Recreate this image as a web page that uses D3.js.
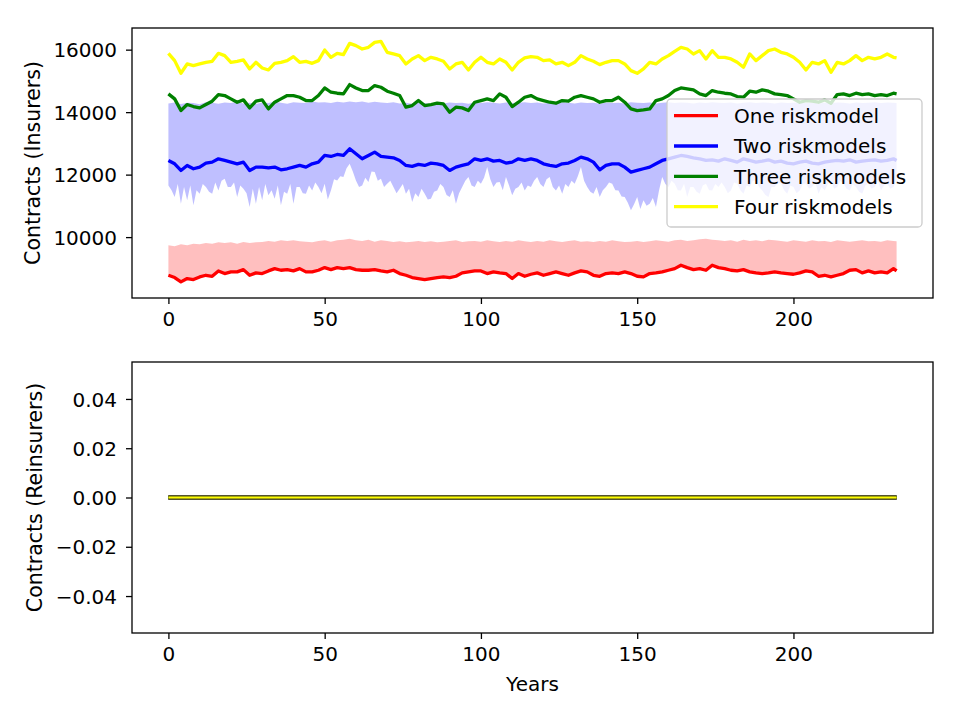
<!DOCTYPE html>
<html><head><meta charset="utf-8">
<script src="https://cdn.jsdelivr.net/npm/d3@7"></script>
<style>body{margin:0;background:#fff} svg{display:block} text{font-family:"DejaVu Sans",sans-serif;fill:#000}</style>
</head><body><svg id="c" width="960" height="720"></svg>
<script>
// ---- data ----
const years = [0,2,4,6,8,10,12,14,16,18,20,22,24,26,28,30,32,34,36,38,40,42,44,46,48,50,52,54,56,58,
60,62,64,66,68,70,72,74,76,78,80,82,84,86,88,90,92,94,96,98,100,102,104,106,108,110,112,114,116,
118,120,122,124,126,128,130,132,134,136,138,140,142,144,146,148,150,152,154,156,158,160,162,164,166,168,170,172,174,176,
178,180,182,184,186,188,190,192,194,196,198,200,202,204,206,208,210,212,214,216,218,220,222,224,226,228,230,232,233];

// yearly positions used by the spiky lower edge of the "Two riskmodels" band (years 0..233)
const yearsAll = d3.range(0, 234);

const seriesNames = ["One riskmodel","Two riskmodels","Three riskmodels","Four riskmodels"];
const seriesColors = ["red","blue","green","yellow"];

const oneRisk = [8779,8705,8566,8673,8641,8726,8779,8747,8918,8833,8886,8886,8960,8779,8854,8833,8918,8992,8939,8960,8918,8992,8886,8886,8939,9024,8960,9024,8992,9024,
8960,8939,8939,8960,8918,8886,8939,8833,8779,8705,8673,8641,8673,8705,8726,8705,8747,8854,8886,8918,8918,8833,8886,8854,8833,8673,8833,8747,8811,
8854,8779,8833,8886,8833,8779,8854,8918,8886,8779,8747,8833,8854,8833,8886,8833,8747,8726,8833,8854,8886,8939,8992,9099,9024,8960,8992,8939,9099,9024,
8992,8939,8918,8960,8886,8854,8833,8854,8886,8854,8833,8811,8854,8918,8886,8747,8779,8726,8779,8833,8939,8960,8854,8918,8854,8886,8854,8992,8918];

const oneRiskUpper = [9738,9706,9770,9738,9791,9770,9812,9791,9833,9812,9833,9791,9844,9812,9833,9844,9876,9855,9898,9876,9898,9866,9855,9833,9876,9898,9855,9898,9919,9951,
9898,9876,9919,9855,9898,9876,9844,9866,9833,9855,9876,9844,9866,9833,9855,9876,9898,9844,9866,9876,9855,9898,9866,9844,9876,9855,9898,9866,9844,
9876,9855,9898,9866,9844,9876,9898,9855,9866,9844,9876,9855,9898,9866,9844,9855,9876,9844,9866,9898,9876,9855,9898,9919,9876,9898,9930,9951,9919,9898,
9876,9898,9855,9919,9876,9898,9866,9919,9898,9876,9855,9898,9876,9855,9898,9866,9876,9844,9898,9876,9855,9876,9898,9866,9876,9855,9898,9876,9866];

const twoRisk = [12454,12347,12134,12294,12187,12241,12369,12400,12507,12454,12400,12347,12400,12134,12241,12241,12219,12241,12155,12187,12241,12294,12241,12347,12400,12613,12581,12645,12613,12826,
12667,12507,12613,12720,12581,12560,12539,12454,12294,12262,12326,12294,12369,12347,12294,12134,12241,12294,12347,12507,12454,12507,12432,12454,12369,12400,12507,12454,12507,
12454,12347,12294,12262,12347,12369,12454,12560,12507,12400,12155,12294,12347,12347,12241,12081,12134,12187,12241,12347,12454,12507,12560,12613,12581,12539,12507,12454,12475,12432,
12507,12454,12400,12507,12454,12400,12432,12475,12400,12432,12369,12347,12400,12432,12369,12347,12400,12432,12454,12432,12475,12400,12432,12454,12475,12432,12454,12507,12454];

// lower edge of the "Two riskmodels" band, one value per year 0..233
const twoRiskLower = [
11655,11500,11282,11700,11069,11600,11176,11650,11016,11500,11389,11700,11602,11450,11389,11750,11495,11800,11868,11600,
11602,11750,11282,11650,11548,11400,10963,11550,11069,11600,11176,11700,11336,11500,11229,11650,11016,11450,11389,11700,
11069,11600,11602,11400,11389,11650,11495,11750,11602,11400,11708,11200,11495,11850,11815,11950,11921,12200,12347,12100,
11815,11600,11655,11900,11761,12100,12081,11800,11868,11600,11708,11800,11602,11400,11548,11700,11389,11550,11122,11400,
11282,11550,11389,11200,11229,11450,11495,11700,11602,11350,11282,11500,11069,11400,11602,11800,11921,11650,11602,11800,
11708,11900,12241,11850,11602,11750,11761,11500,11921,11650,11336,11550,11602,11750,11495,11650,11602,11800,11921,11700,
11602,11850,11921,11600,11495,11650,11389,11700,11602,11800,11708,11950,12241,11800,11602,11450,11389,11600,11282,11500,
11602,11750,11708,11500,11495,11300,11282,11100,10856,11050,11282,10900,11176,11000,11069,11250,10963,11500,11921,11700,
11602,11800,11708,11500,11495,11700,11282,11600,11602,11450,11389,11650,11708,11500,11495,11700,11602,11750,11602,11400,
11495,11750,11708,11500,11389,11650,11602,11800,11815,11600,11495,11350,11282,11600,11602,11750,11708,11500,11389,11650,
11602,11400,11495,11700,11708,11550,11602,11750,11389,11600,11495,11700,11815,11550,11602,11800,11708,11550,11495,11700,
11602,11450,11389,11650,11708,11550,11602,11800,11495,11650,11708,11550,11602,11815];

const twoRiskUpper = [14280,14310,14260,14300,14290,14250,14320,14300,14270,14310,14290,14330,14280,14300,14260,14310,14290,14330,14300,14270,14320,14300,14290,14340,14310,14320,14290,14330,14310,14340,
14320,14340,14300,14330,14310,14290,14320,14280,14300,14270,14310,14290,14260,14300,14280,14310,14290,14300,14270,14310,14290,14320,14300,14280,14310,14290,14300,14320,14290,
14310,14280,14300,14290,14320,14300,14280,14310,14290,14300,14270,14310,14290,14300,14280,14320,14300,14290,14310,14280,14300,14320,14290,14310,14300,14280,14310,14290,14320,14300,
14290,14310,14280,14300,14320,14290,14310,14300,14280,14310,14290,14300,14320,14290,14310,14280,14300,14290,14310,14300,14280,14310,14290,14300,14320,14290,14310,14300,14290];

const threeRisk = [14584,14424,14051,14243,14179,14136,14243,14349,14562,14530,14424,14317,14392,14136,14349,14392,14104,14317,14424,14530,14530,14477,14371,14371,14530,14775,14637,14605,14584,14882,
14775,14690,14690,14850,14797,14669,14605,14530,14158,14211,14371,14211,14243,14285,14264,13998,14158,14136,14051,14317,14371,14424,14371,14584,14477,14179,14317,14477,14530,
14424,14371,14317,14285,14371,14349,14477,14530,14477,14424,14317,14371,14371,14477,14317,14104,14051,14072,14104,14371,14424,14530,14690,14775,14744,14712,14584,14530,14690,14637,
14605,14584,14498,14477,14669,14637,14712,14669,14584,14562,14530,14424,14317,14371,14349,14317,14392,14285,14562,14584,14530,14605,14562,14584,14530,14562,14530,14605,14584];

const fourRisk = [15883,15649,15244,15542,15489,15542,15595,15627,15883,15808,15595,15627,15670,15382,15595,15414,15350,15563,15595,15649,15776,15595,15627,15563,15649,15989,15755,15883,15840,16202,
16128,16021,16075,16234,16266,15915,15862,15808,15542,15702,15808,15649,15755,15702,15627,15382,15542,15595,15350,15595,15755,15595,15542,15702,15595,15350,15595,15734,15776,
15755,15649,15670,15542,15595,15489,15595,15808,15702,15627,15521,15595,15649,15649,15542,15329,15244,15382,15595,15542,15702,15808,15947,16075,16021,15862,15968,15702,15968,15755,
15755,15702,15595,15436,15862,15649,15808,15968,16021,15915,15862,15755,15595,15350,15595,15542,15649,15276,15595,15542,15649,15808,15649,15755,15702,15755,15862,15755,15734];

// reinsurer contracts: every series stays at zero over the whole run
const reinsYears = [0, 233];
const reinsOne = [0, 0];
const reinsTwo = [0, 0];
const reinsThree = [0, 0];
const reinsFour = [0, 0];

const topYTicks = [10000, 12000, 14000, 16000];
const bottomYTicks = [-0.04, -0.02, 0.00, 0.02, 0.04];
const xTicks = [0, 50, 100, 150, 200];

// ---- drawing ----
const svg = d3.select("#c");
const L = 132, R = 933;
const top1 = 28, bot1 = 298, top2 = 362, bot2 = 633;

const x = d3.scaleLinear().domain([-11.65, 244.65]).range([L, R]);
const y1 = d3.scaleLinear().domain([8051, 16693]).range([bot1, top1]);
const y2 = d3.scaleLinear().domain([-0.055, 0.055]).range([bot2, top2]);

const clip = (id, t, b) => svg.append("clipPath").attr("id", id).append("rect")
  .attr("x", L).attr("y", t).attr("width", R - L).attr("height", b - t);
clip("c1", top1, bot1); clip("c2", top2, bot2);

const g1 = svg.append("g").attr("clip-path", "url(#c1)");

function band(g, lo, hi, color) {
  g.append("path").datum(years)
    .attr("d", d3.area().x(d => x(d)).y0((d, i) => y1(lo[i])).y1((d, i) => y1(hi[i])))
    .attr("fill", color).attr("fill-opacity", 0.25).attr("stroke", "none");
}
function line(g, ys, color) {
  g.append("path").datum(years)
    .attr("d", d3.line().x(d => x(d)).y((d, i) => y1(ys[i])))
    .attr("fill", "none").attr("stroke", color).attr("stroke-width", 3.3)
    .attr("stroke-linejoin", "round");
}
band(g1, oneRisk, oneRiskUpper, "red");
line(g1, oneRisk, "red");

// blue band: upper edge on the 2-year grid, lower edge yearly
const bluePts = years.map((d, i) => [x(d), y1(twoRiskUpper[i])])
  .concat(yearsAll.map((d, i) => [x(d), y1(twoRiskLower[i])]).reverse());
g1.append("path").attr("d", d3.line()(bluePts) + "Z")
  .attr("fill", "blue").attr("fill-opacity", 0.25).attr("stroke", "none");
line(g1, twoRisk, "blue");
line(g1, threeRisk, "green");
line(g1, fourRisk, "yellow");

// bottom panel
const g2 = svg.append("g").attr("clip-path", "url(#c2)");
const reinsSeries = [reinsOne, reinsTwo, reinsThree, reinsFour];
const l2 = vals => d3.line().x((d, i) => x(reinsYears[i])).y((d, i) => y2(vals[i]))(vals);
reinsSeries.forEach((vals, k) => {
  g2.append("path").attr("d", l2(vals)).attr("fill", "none")
    .attr("stroke", "#4a4a20").attr("stroke-width", 4);
  g2.append("path").attr("d", l2(vals)).attr("fill", "none")
    .attr("stroke", seriesColors[k]).attr("stroke-width", 2);
});

// axes
function axes(yScale, yTicks, t, b, fmt, ylabel, xlabelY) {
  const ax = svg.append("g").attr("transform", `translate(0,${b})`)
    .call(d3.axisBottom(x).tickValues(xTicks).tickSize(6).tickPadding(7).tickFormat(d3.format("d")));
  ax.select(".domain").remove();
  ax.selectAll("line").attr("stroke", "#000").attr("stroke-width", 1.3);
  ax.selectAll("text").attr("font-size", 20).attr("dy", "0.71em").attr("y", 14);
  const ay = svg.append("g").attr("transform", `translate(${L},0)`)
    .call(d3.axisLeft(yScale).tickValues(yTicks).tickSize(6).tickPadding(8).tickFormat(fmt));
  ay.select(".domain").remove();
  ay.selectAll("line").attr("stroke", "#000").attr("stroke-width", 1.3);
  ay.selectAll("text").attr("font-size", 20).attr("dy", "0.36em").attr("x", -15);
  svg.append("rect").attr("x", L).attr("y", t).attr("width", R - L).attr("height", b - t)
    .attr("fill", "none").attr("stroke", "#000").attr("stroke-width", 1.3);
  svg.append("text").attr("transform", `translate(${xlabelY},${(t + b) / 2}) rotate(-90)`)
    .attr("text-anchor", "middle").attr("dy", "0.36em").attr("font-size", 20.5).text(ylabel);
}
axes(y1, topYTicks, top1, bot1, d3.format("d"), "Contracts (Insurers)", 33);
axes(y2, bottomYTicks, top2, bot2, d => d3.format(".2f")(d).replace("-", "\u2212"), "Contracts (Reinsurers)", 35);

svg.append("text").attr("x", (L + R) / 2).attr("y", 691).attr("text-anchor", "middle")
  .attr("font-size", 20).text("Years");

// legend
const lg = svg.append("g");
lg.append("rect").attr("x", 667).attr("y", 99).attr("width", 255).attr("height", 128)
  .attr("rx", 4).attr("fill", "#fff").attr("fill-opacity", 0.8).attr("stroke", "#cccccc").attr("stroke-width", 1.3);
seriesNames.forEach((name, i) => {
  const cy = 115.7 + i * 30.3;
  lg.append("line").attr("x1", 674).attr("x2", 718).attr("y1", cy).attr("y2", cy)
    .attr("stroke", seriesColors[i]).attr("stroke-width", 3.3);
  lg.append("text").attr("x", 734).attr("y", cy).attr("dy", "0.36em").attr("font-size", 20).text(name);
});
</script>
</body></html>
